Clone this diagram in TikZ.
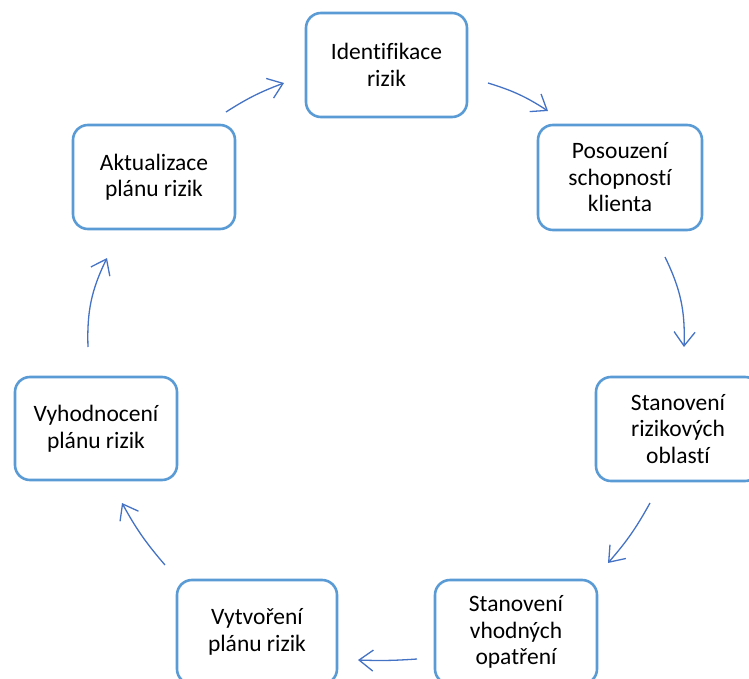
\documentclass[tikz,border=0pt]{standalone}
\usepackage{fontspec}
\setmainfont[Ligatures=NoCommon]{Carlito}
\usetikzlibrary{arrows.meta}
\definecolor{boxblue}{HTML}{5B9BD5}
\definecolor{arrblue}{HTML}{4472C4}
\begin{document}
\begin{tikzpicture}[x=1pt,y=1pt,
  stepbox/.style={draw=boxblue, line width=2.6pt, rounded corners=15pt, fill=white,
    align=center, inner sep=0pt, font=\fontsize{23.5}{26.5}\selectfont},
  conn/.style={draw=arrblue, line width=1.3pt, -{Straight Barb[length=14pt,width=21pt,line width=1.3pt]}}]
\useasboundingbox (0,0) rectangle (749,-679);
\begin{scope}
\clip (0,0) rectangle (749,-679);
\node[stepbox, minimum width=161pt, minimum height=104pt] (n1) at (386.5,-65) {Identifikace\\rizik};
\node[stepbox, minimum width=164pt, minimum height=105pt] (n2) at (620,-177.5) {Posouzení\\schopností\\klienta};
\node[stepbox, minimum width=164pt, minimum height=104pt] (n3) at (678,-429) {Stanovení\\rizikových\\oblastí};
\node[stepbox, minimum width=162pt, minimum height=104pt] (n4) at (516,-632) {Stanovení\\vhodných\\opatření};
\node[stepbox, minimum width=160pt, minimum height=104pt] (n5) at (257,-632) {Vytvoření\\plánu rizik};
\node[stepbox, minimum width=162pt, minimum height=103pt] (n6) at (96,-428.5) {Vyhodnocení\\plánu rizik};
\node[stepbox, minimum width=162pt, minimum height=104pt] (n7) at (154,-177) {Aktualizace\\plánu rizik};
\end{scope}
\coordinate (a1s) at (488,-83);  \coordinate (a1e) at (548,-111);
\coordinate (a2s) at (665,-257); \coordinate (a2e) at (684,-347);
\coordinate (a3s) at (650,-503); \coordinate (a3e) at (608,-563);
\coordinate (a4s) at (417,-659); \coordinate (a4e) at (358,-660);
\coordinate (a5s) at (165,-565); \coordinate (a5e) at (122,-503);
\coordinate (a6s) at (88,-347);  \coordinate (a6e) at (107,-258);
\coordinate (a7s) at (226,-112); \coordinate (a7e) at (284,-83);
\draw[conn] (a1s) to[bend left=8] (a1e);
\draw[conn] (a2s) to[bend left=14] (a2e);
\draw[conn] (a3s) to[bend left=6] (a3e);
\draw[conn] (a4s) to[bend left=3] (a4e);
\draw[conn] (a5s) to[bend left=6] (a5e);
\draw[conn] (a6s) to[bend left=14] (a6e);
\draw[conn] (a7s) to[bend left=6] (a7e);
\end{tikzpicture}
\end{document}
